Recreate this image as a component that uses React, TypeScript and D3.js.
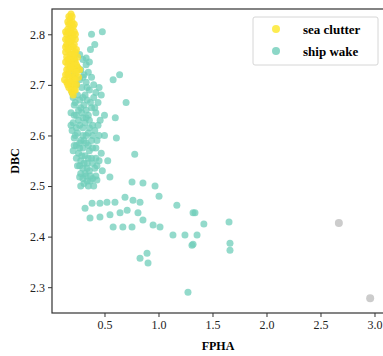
import { useRef, useEffect } from 'react';
import * as d3 from 'd3';

// sea clutter: [FPHA, DBC]
const seaClutter: [number, number][] = [
  [0.19, 2.84], [0.18, 2.83], [0.2, 2.825], [0.17, 2.82], [0.21, 2.815], [0.16, 2.81], [0.19, 2.81],
  [0.22, 2.805], [0.15, 2.8], [0.18, 2.8], [0.21, 2.795], [0.16, 2.79], [0.23, 2.79], [0.19, 2.785],
  [0.15, 2.78], [0.22, 2.78], [0.17, 2.775], [0.2, 2.77], [0.24, 2.77], [0.14, 2.765], [0.18, 2.76],
  [0.22, 2.76], [0.16, 2.75], [0.2, 2.75], [0.25, 2.755], [0.14, 2.745], [0.23, 2.745], [0.18, 2.74],
  [0.21, 2.735], [0.15, 2.73], [0.25, 2.735], [0.19, 2.725], [0.23, 2.72], [0.14, 2.72], [0.17, 2.715],
  [0.21, 2.71], [0.26, 2.715], [0.15, 2.705], [0.19, 2.7], [0.24, 2.7], [0.22, 2.69], [0.17, 2.695],
  [0.2, 2.685], [0.13, 2.71], [0.27, 2.73],
  [0.17, 2.835], [0.2, 2.835], [0.16, 2.825], [0.19, 2.82], [0.22, 2.82], [0.14, 2.805], [0.17, 2.805],
  [0.2, 2.8], [0.23, 2.8], [0.14, 2.79], [0.18, 2.79], [0.2, 2.79], [0.17, 2.785], [0.21, 2.775],
  [0.14, 2.775], [0.23, 2.765], [0.16, 2.77], [0.2, 2.76], [0.15, 2.755], [0.18, 2.75], [0.22, 2.75],
  [0.24, 2.74], [0.16, 2.74], [0.2, 2.74], [0.17, 2.73], [0.22, 2.73], [0.19, 2.735], [0.24, 2.725],
  [0.16, 2.72], [0.2, 2.715], [0.23, 2.71], [0.18, 2.705], [0.22, 2.7], [0.16, 2.7], [0.19, 2.69],
  [0.23, 2.69], [0.21, 2.68],
];

// ship wake: [FPHA, DBC]
const shipWake: [number, number][] = [
  // upper scatter
  [0.38, 2.8], [0.48, 2.805], [0.41, 2.78], [0.37, 2.77], [0.33, 2.753], [0.58, 2.71], [0.64, 2.72],
  [0.7, 2.665], [0.6, 2.635], [0.61, 2.595], [0.78, 2.563], [0.53, 2.55],
  // dense column
  [0.27, 2.76], [0.3, 2.75], [0.33, 2.74], [0.28, 2.73], [0.35, 2.725], [0.31, 2.72], [0.38, 2.715],
  [0.27, 2.71], [0.33, 2.705], [0.4, 2.7], [0.29, 2.695], [0.36, 2.69], [0.24, 2.7], [0.45, 2.695],
  [0.2, 2.685], [0.25, 2.68], [0.3, 2.675], [0.34, 2.67], [0.4, 2.675], [0.44, 2.665], [0.22, 2.66],
  [0.28, 2.655], [0.33, 2.65], [0.38, 2.655], [0.19, 2.645], [0.24, 2.64], [0.3, 2.635], [0.35, 2.64],
  [0.42, 2.645], [0.46, 2.63], [0.21, 2.625], [0.27, 2.62], [0.32, 2.625], [0.39, 2.62], [0.5, 2.64],
  [0.23, 2.665], [0.36, 2.63], [0.26, 2.63],
  [0.2, 2.61], [0.25, 2.605], [0.3, 2.6], [0.35, 2.605], [0.41, 2.61], [0.45, 2.6], [0.22, 2.595],
  [0.28, 2.59], [0.33, 2.585], [0.38, 2.59], [0.24, 2.58], [0.3, 2.575], [0.36, 2.57], [0.42, 2.575],
  [0.26, 2.565], [0.32, 2.56], [0.47, 2.565], [0.21, 2.57], [0.28, 2.55], [0.34, 2.545], [0.38, 2.555],
  [0.25, 2.54], [0.3, 2.535], [0.36, 2.53], [0.41, 2.535], [0.28, 2.525], [0.33, 2.52], [0.39, 2.515],
  [0.31, 2.505], [0.35, 2.5], [0.43, 2.54], [0.48, 2.53], [0.37, 2.51],
  [0.22, 2.75], [0.25, 2.735], [0.36, 2.745], [0.3, 2.715], [0.22, 2.72], [0.34, 2.695], [0.42, 2.685],
  [0.27, 2.67], [0.21, 2.675], [0.37, 2.665], [0.31, 2.66], [0.26, 2.65], [0.41, 2.655], [0.22, 2.64],
  [0.33, 2.635], [0.29, 2.645], [0.44, 2.62], [0.19, 2.62], [0.24, 2.615], [0.3, 2.615], [0.36, 2.615],
  [0.33, 2.6], [0.39, 2.6], [0.23, 2.6], [0.27, 2.585], [0.31, 2.59], [0.43, 2.59], [0.35, 2.58],
  [0.39, 2.575], [0.22, 2.58], [0.27, 2.575], [0.29, 2.56], [0.35, 2.555], [0.42, 2.555], [0.24, 2.555],
  [0.31, 2.545], [0.39, 2.545], [0.27, 2.54], [0.34, 2.535], [0.32, 2.525], [0.37, 2.52], [0.3, 2.515],
  [0.42, 2.52], [0.34, 2.51], [0.28, 2.5], [0.4, 2.5], [0.45, 2.55], [0.5, 2.6], [0.47, 2.68], [0.32, 2.68],
  // lower spread
  [0.27, 2.518], [0.43, 2.512], [0.55, 2.518], [0.755, 2.508], [0.856, 2.506], [0.968, 2.5],
  [1.005, 2.48], [1.17, 2.462], [1.32, 2.447], [0.32, 2.456], [0.385, 2.466], [0.458, 2.466],
  [0.523, 2.468], [0.597, 2.468], [0.69, 2.478], [0.764, 2.472], [0.829, 2.468], [0.366, 2.437],
  [0.458, 2.439], [0.551, 2.443], [0.644, 2.447], [0.58, 2.419], [0.67, 2.419], [0.755, 2.419],
  [0.71, 2.452], [0.81, 2.447], [0.856, 2.433], [0.95, 2.423], [1.014, 2.419], [1.134, 2.403],
  [1.245, 2.403], [1.31, 2.383], [0.829, 2.357], [0.894, 2.367], [0.903, 2.348], [1.273, 2.29],
  [1.338, 2.447], [1.42, 2.425], [1.653, 2.429], [1.357, 2.403], [1.32, 2.385], [1.662, 2.387],
  [1.662, 2.373],
];

// faint grey marks on the right
const faint: [number, number][] = [[2.67, 2.427], [2.96, 2.278]];

const xTicks = [0.5, 1.0, 1.5, 2.0, 2.5, 3.0];
const yTicks = [2.3, 2.4, 2.5, 2.6, 2.7, 2.8];
const legendItems = [
  { label: 'sea clutter', color: '#fde725' },
  { label: 'ship wake', color: '#6fcdb9' },
];

const W = 383;
const H = 356;
const margin = { top: 9, right: -1, bottom: 43, left: 52 };
const font = '"Liberation Serif", "Times New Roman", serif';

const App = () => {
  const svgRef = useRef<SVGSVGElement>(null);

  useEffect(() => {
    const svg = d3.select(svgRef.current);
    svg.selectAll('*').remove();

    const x = d3.scaleLinear().domain([0.014, 3.088]).range([margin.left, W - margin.right]);
    const y = d3.scaleLinear().domain([2.249, 2.85]).range([H - margin.bottom, margin.top]);

    svg.append('rect').attr('width', W).attr('height', H).attr('fill', '#fff');

    // frame
    svg.append('rect')
      .attr('x', margin.left).attr('y', margin.top)
      .attr('width', W - margin.right - margin.left)
      .attr('height', H - margin.bottom - margin.top)
      .attr('fill', 'none').attr('stroke', '#333').attr('stroke-width', 1.2);

    svg.append('g')
      .selectAll('circle')
      .data(shipWake)
      .join('circle')
      .attr('cx', d => x(d[0])).attr('cy', d => y(d[1])).attr('r', 3.5)
      .attr('fill', '#6fcdb9').attr('fill-opacity', 0.75);

    svg.append('g')
      .selectAll('circle')
      .data(seaClutter)
      .join('circle')
      .attr('cx', d => x(d[0])).attr('cy', d => y(d[1])).attr('r', 3.5)
      .attr('fill', '#fbe12e').attr('fill-opacity', 0.85);

    svg.append('g')
      .selectAll('circle')
      .data(faint)
      .join('circle')
      .attr('cx', d => x(d[0])).attr('cy', d => y(d[1])).attr('r', 4)
      .attr('fill', '#9a9a9a').attr('fill-opacity', 0.5);

    const xAxis = svg.append('g')
      .attr('transform', `translate(0,${H - margin.bottom})`)
      .call(d3.axisBottom(x).tickValues(xTicks).tickFormat(d3.format('.1f')).tickSize(4).tickPadding(3));
    const yAxis = svg.append('g')
      .attr('transform', `translate(${margin.left},0)`)
      .call(d3.axisLeft(y).tickValues(yTicks).tickFormat(d3.format('.1f')).tickSize(4).tickPadding(3));
    [xAxis, yAxis].forEach(a => {
      a.attr('font-family', font).attr('font-size', 12);
      a.select('.domain').remove();
      a.selectAll('line').attr('stroke', '#333');
      a.selectAll('text').style('font-family', font).attr('fill', '#222');
    });

    svg.append('text')
      .attr('x', (margin.left + W - margin.right) / 2).attr('y', 350)
      .attr('text-anchor', 'middle')
      .attr('font-family', font).attr('font-weight', 'bold').attr('font-size', 12)
      .text('FPHA');
    svg.append('text')
      .attr('transform', `translate(19,${(margin.top + H - margin.bottom) / 2}) rotate(-90)`)
      .attr('text-anchor', 'middle')
      .attr('font-family', font).attr('font-weight', 'bold').attr('font-size', 12)
      .text('DBC');

    // legend
    const lg = svg.append('g').attr('transform', 'translate(253,17)');
    lg.append('rect')
      .attr('width', 125).attr('height', 48).attr('rx', 2)
      .attr('fill', '#fff').attr('fill-opacity', 0.8)
      .attr('stroke', '#d6d6d6');
    const items = lg.selectAll('g.item')
      .data(legendItems)
      .join('g')
      .attr('transform', (_d, i) => `translate(0,${12 + i * 22})`);
    items.append('circle').attr('cx', 23).attr('r', 4)
      .attr('fill', d => d.color).attr('fill-opacity', 0.8);
    items.append('text')
      .attr('x', 50).attr('y', 4.5)
      .attr('font-family', font).attr('font-weight', 'bold').attr('font-size', 13)
      .text(d => d.label);
  }, []);

  return (
    <svg ref={svgRef} width={W} height={H}
      style={{ position: 'fixed', left: 0, top: 0, display: 'block' }} />
  );
};

export default App;
